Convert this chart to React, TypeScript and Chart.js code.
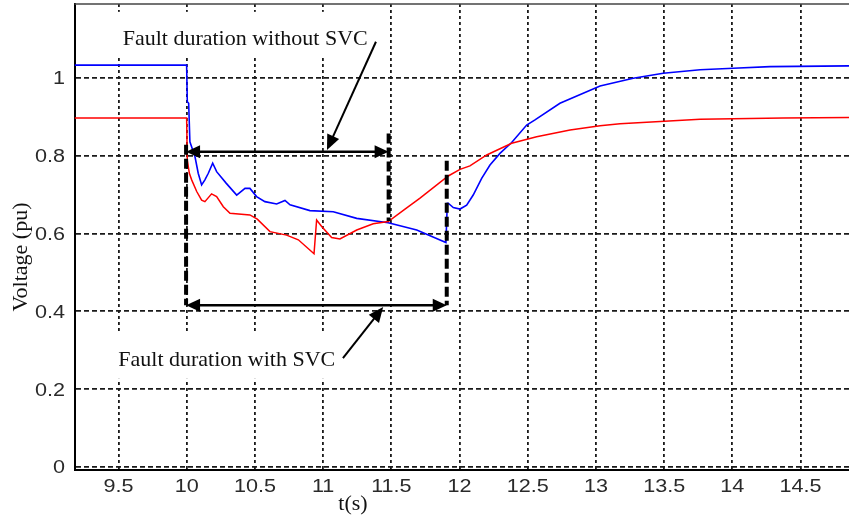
import React, { useEffect, useRef } from 'react';
import { Chart, registerables } from 'chart.js';

Chart.register(...registerables);

// Axis ticks
const xTicks = [9.5, 10, 10.5, 11, 11.5, 12, 12.5, 13, 13.5, 14, 14.5];
const xTickLabels = ['9.5', '10', '10.5', '11', '11.5', '12', '12.5', '13', '13.5', '14', '14.5'];
const yTicks = [0, 0.2, 0.4, 0.6, 0.8, 1];
const yTickLabels = ['0', '0.2', '0.4', '0.6', '0.8', '1'];
const xMin = 9.177;
const xMax = 14.855;
const yMin = -0.0077;
const yMax = 1.19;

// Blue series (time, voltage)
const blueT = [9.177, 9.999, 10.004, 10.014, 10.023, 10.06, 10.084, 10.109, 10.133, 10.158, 10.19, 10.219, 10.29, 10.366, 10.427, 10.463, 10.512, 10.573, 10.659, 10.72, 10.757, 10.903, 11.074, 11.246, 11.477, 11.686, 11.9, 11.91, 11.917, 11.954, 12.003, 12.052, 12.1, 12.162, 12.223, 12.296, 12.382, 12.492, 12.553, 12.736, 13.03, 13.273, 13.493, 13.763, 14.007, 14.276, 14.855];
const blueV = [1.033, 1.033, 0.939, 0.935, 0.836, 0.798, 0.755, 0.725, 0.738, 0.755, 0.781, 0.759, 0.729, 0.699, 0.716, 0.716, 0.695, 0.682, 0.676, 0.685, 0.674, 0.659, 0.656, 0.639, 0.628, 0.609, 0.577, 0.678, 0.678, 0.667, 0.663, 0.673, 0.699, 0.742, 0.776, 0.806, 0.834, 0.879, 0.892, 0.935, 0.979, 0.999, 1.012, 1.021, 1.025, 1.029, 1.031];

// Red series (time, voltage)
const redT = [9.177, 9.999, 10.004, 10.019, 10.036, 10.073, 10.109, 10.133, 10.182, 10.219, 10.268, 10.317, 10.463, 10.517, 10.61, 10.732, 10.818, 10.933, 10.952, 10.989, 11.062, 11.123, 11.246, 11.367, 11.477, 11.6, 11.71, 11.917, 12.003, 12.076, 12.199, 12.382, 12.565, 12.81, 13.03, 13.176, 13.47, 13.763, 14.373, 14.855];
const redV = [0.897, 0.897, 0.789, 0.755, 0.738, 0.708, 0.686, 0.682, 0.702, 0.695, 0.669, 0.652, 0.648, 0.637, 0.605, 0.596, 0.584, 0.548, 0.635, 0.618, 0.59, 0.586, 0.609, 0.625, 0.631, 0.663, 0.691, 0.748, 0.765, 0.774, 0.802, 0.832, 0.849, 0.866, 0.877, 0.882, 0.888, 0.894, 0.897, 0.898];

// Annotations (data units)
const spanWithoutSvc = [9.995, 11.48];
const levelWithoutSvc = 0.81;
const spanWithSvc = [9.995, 11.906];
const levelWithSvc = 0.416;
const markerT = [9.995, 11.48, 11.906];
const markerTop = [0.828, 0.857, 0.787];
const markerBottom = [0.416, 0.632, 0.416];
const pointerFrom = [[11.387, 1.093], [11.145, 0.28]];
const pointerTo = [[11.028, 0.815], [11.44, 0.411]];
const noteTexts = ['Fault duration without SVC', 'Fault duration with SVC'];
const notePos = [[9.53, 1.085], [9.498, 0.26]];

const SERIF = '22px "Liberation Serif", "Times New Roman", serif';
const SANS = '18px "Liberation Sans", Arial, sans-serif';

function drawHead(ctx: CanvasRenderingContext2D, tx: number, ty: number, fx: number, fy: number, len = 13, half = 6) {
  const a = Math.atan2(ty - fy, tx - fx);
  ctx.beginPath();
  ctx.moveTo(tx, ty);
  ctx.lineTo(tx - len * Math.cos(a) + half * Math.sin(a), ty - len * Math.sin(a) - half * Math.cos(a));
  ctx.lineTo(tx - len * Math.cos(a) - half * Math.sin(a), ty - len * Math.sin(a) + half * Math.cos(a));
  ctx.closePath();
  ctx.fill();
}

const decorPlugin = {
  id: 'decor',
  beforeDatasetsDraw(chart: any) {
    const { ctx, scales } = chart;
    const xs = scales.x, ys = scales.y;
    ctx.save();
    ctx.font = SERIF;
    ctx.fillStyle = '#ffffff';
    noteTexts.forEach((t, i) => {
      const x = xs.getPixelForValue(notePos[i][0]);
      const y = ys.getPixelForValue(notePos[i][1]);
      const w = ctx.measureText(t).width;
      ctx.fillRect(x - 12, y - 33, w + 17, 46);
    });
    ctx.restore();
  },
  afterDatasetsDraw(chart: any) {
    const { ctx, scales, chartArea } = chart;
    const xs = scales.x, ys = scales.y;
    ctx.save();
    // top border
    ctx.strokeStyle = '#444';
    ctx.lineWidth = 1.5;
    ctx.beginPath();
    ctx.moveTo(chartArea.left, chartArea.top);
    ctx.lineTo(chartArea.right, chartArea.top);
    ctx.stroke();

    ctx.strokeStyle = '#000';
    ctx.fillStyle = '#000';
    // thick dashed markers
    ctx.lineWidth = 4;
    ctx.setLineDash([10, 4]);
    markerT.forEach((t, i) => {
      const x = xs.getPixelForValue(t);
      ctx.beginPath();
      ctx.moveTo(x, ys.getPixelForValue(markerTop[i]));
      ctx.lineTo(x, ys.getPixelForValue(markerBottom[i]));
      ctx.stroke();
    });
    ctx.setLineDash([]);
    // double arrows
    const spans = [[spanWithoutSvc, levelWithoutSvc], [spanWithSvc, levelWithSvc]] as any[];
    spans.forEach(([span, lvl]) => {
      const x1 = xs.getPixelForValue(span[0]);
      const x2 = xs.getPixelForValue(span[1]);
      const y = ys.getPixelForValue(lvl);
      ctx.lineWidth = 2.5;
      ctx.beginPath();
      ctx.moveTo(x1 + 8, y);
      ctx.lineTo(x2 - 8, y);
      ctx.stroke();
      drawHead(ctx, x1, y, x2, y, 14, 6.5);
      drawHead(ctx, x2, y, x1, y, 14, 6.5);
    });
    // pointer arrows
    pointerFrom.forEach((p, i) => {
      const fx = xs.getPixelForValue(p[0]);
      const fy = ys.getPixelForValue(p[1]);
      const tx = xs.getPixelForValue(pointerTo[i][0]);
      const ty = ys.getPixelForValue(pointerTo[i][1]);
      const a = Math.atan2(ty - fy, tx - fx);
      ctx.lineWidth = 2;
      ctx.beginPath();
      ctx.moveTo(fx, fy);
      ctx.lineTo(tx - 8 * Math.cos(a), ty - 8 * Math.sin(a));
      ctx.stroke();
      drawHead(ctx, tx, ty, fx, fy, 15, 6.5);
    });
    // note texts
    ctx.font = SERIF;
    ctx.fillStyle = '#111';
    ctx.textAlign = 'left';
    ctx.textBaseline = 'alphabetic';
    noteTexts.forEach((t, i) => {
      ctx.fillText(t, xs.getPixelForValue(notePos[i][0]), ys.getPixelForValue(notePos[i][1]));
    });
    ctx.restore();
  },
  afterDraw(chart: any) {
    const { ctx, scales } = chart;
    const xs = scales.x, ys = scales.y;
    ctx.save();
    ctx.font = SANS;
    ctx.fillStyle = '#2a2a2a';
    ctx.textBaseline = 'alphabetic';
    xTicks.forEach((v, i) => {
      ctx.save();
      ctx.translate(xs.getPixelForValue(v), 492);
      ctx.scale(1.2, 1);
      ctx.textAlign = 'center';
      ctx.fillText(xTickLabels[i], 0, 0);
      ctx.restore();
    });
    yTicks.forEach((v, i) => {
      ctx.save();
      ctx.translate(65, ys.getPixelForValue(v) + 6.4);
      ctx.scale(1.2, 1);
      ctx.textAlign = 'right';
      ctx.fillText(yTickLabels[i], 0, 0);
      ctx.restore();
    });
    // axis titles
    ctx.font = SERIF;
    ctx.fillStyle = '#111';
    ctx.textAlign = 'center';
    ctx.fillText('t(s)', 353, 510);
    ctx.save();
    ctx.translate(27, 257);
    ctx.rotate(-Math.PI / 2);
    ctx.fillText('Voltage (pu)', 0, 0);
    ctx.restore();
    ctx.restore();
  },
};

export default function App() {
  const ref = useRef<HTMLCanvasElement | null>(null);
  useEffect(() => {
    if (!ref.current) return;
    const chart = new Chart(ref.current, {
      type: 'line',
      data: {
        datasets: [
          {
            label: 'Without SVC',
            data: redT.map((t, i) => ({ x: t, y: redV[i] })),
            borderColor: 'rgb(255,0,0)',
            borderWidth: 1.5,
            pointRadius: 0,
            tension: 0,
          },
          {
            label: 'With SVC',
            data: blueT.map((t, i) => ({ x: t, y: blueV[i] })),
            borderColor: 'rgb(0,0,255)',
            borderWidth: 1.6,
            pointRadius: 0,
            tension: 0,
          },
        ],
      },
      options: {
        animation: false,
        responsive: true,
        maintainAspectRatio: false,
        layout: { padding: { top: 4, left: 0, right: 0, bottom: 0 } },
        plugins: { legend: { display: false }, tooltip: { enabled: false } },
        scales: {
          x: {
            type: 'linear',
            min: xMin,
            max: xMax,
            afterBuildTicks: (s: any) => { s.ticks = xTicks.map((v) => ({ value: v })); },
            afterFit: (s: any) => { s.height = 45; },
            ticks: { display: false },
            grid: { color: '#1a1a1a', lineWidth: 1.8, drawTicks: false },
            border: { display: true, color: '#000', width: 2, dash: [3, 3] },
          },
          y: {
            type: 'linear',
            min: yMin,
            max: yMax,
            afterBuildTicks: (s: any) => { s.ticks = yTicks.map((v) => ({ value: v })); },
            afterFit: (s: any) => { s.width = 74.5; },
            ticks: { display: false },
            grid: { color: '#1a1a1a', lineWidth: 1.8, drawTicks: false },
            border: { display: true, color: '#000', width: 2, dash: [5, 3] },
          },
        },
      },
      plugins: [decorPlugin],
    } as any);
    return () => chart.destroy();
  }, []);
  return (
    <div style={{ position: 'absolute', left: 0, top: 0, width: 849, height: 515, background: '#fff' }}>
      <canvas ref={ref} />
    </div>
  );
}
